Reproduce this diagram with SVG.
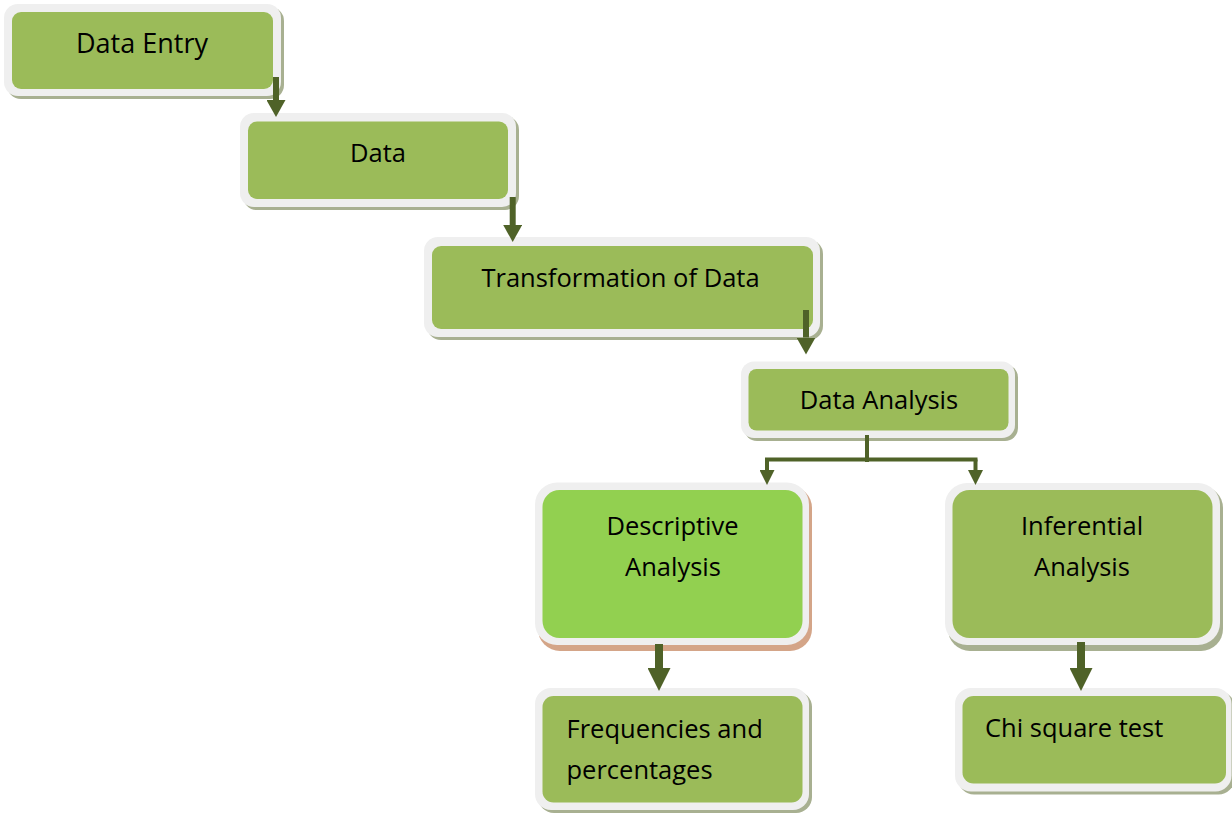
<svg xmlns="http://www.w3.org/2000/svg" width="1232" height="814" viewBox="0 0 1232 814">
<defs>
<style>
.frame{fill:#efefef;}
.shadow{fill:#a8b091;}
.shadow-tan{fill:#d4a588;}
.fill{fill:#9bbb59;}
.fill-bright{fill:#92d050;}
.label{font-family:"Open Sans","Noto Sans",sans-serif;font-size:25.5px;fill:#000;}
.mid{text-anchor:middle;}
.conn{stroke:#4f6228;fill:none;}
</style>
<marker id="head-m" markerUnits="userSpaceOnUse" viewBox="0 0 17 19" markerWidth="17" markerHeight="19" refX="0" refY="9.5" orient="auto"><path d="M0,0 L17,9.5 L0,19 z" fill="#4f6228"/></marker>
<marker id="head-s" markerUnits="userSpaceOnUse" viewBox="0 0 15 15" markerWidth="15" markerHeight="15" refX="0" refY="7.5" orient="auto"><path d="M0,0 L15,7.5 L0,15 z" fill="#4f6228"/></marker>
<marker id="head-l" markerUnits="userSpaceOnUse" viewBox="0 0 23 23" markerWidth="23" markerHeight="23" refX="0" refY="11.5" orient="auto"><path d="M0,0 L23,11.5 L0,23 z" fill="#4f6228"/></marker>
</defs>
<rect width="1232" height="814" fill="#ffffff"/>

<g id="node-data-entry">
<rect class="shadow" x="7" y="7" width="277" height="92" rx="14"/>
<rect class="frame" x="4" y="4" width="277" height="92" rx="14"/>
<rect class="fill" x="12" y="12" width="261" height="77" rx="9"/>
<text class="label mid" x="142" y="53" style="font-size:27px">Data Entry</text>
</g>

<g id="node-data">
<rect class="shadow" x="243" y="116" width="276" height="94" rx="14"/>
<rect class="frame" x="240" y="113" width="276" height="94" rx="14"/>
<rect class="fill" x="248" y="121.5" width="260" height="77.5" rx="9"/>
<text class="label mid" x="378" y="162">Data</text>
</g>

<g id="node-transformation">
<rect class="shadow" x="427" y="240" width="396" height="100" rx="14"/>
<rect class="frame" x="424" y="237" width="396" height="100" rx="14"/>
<rect class="fill" x="432" y="246" width="381" height="83" rx="9"/>
<text class="label mid" x="620.5" y="287">Transformation of Data</text>
</g>

<g id="node-data-analysis">
<rect class="shadow" x="744" y="364.5" width="274" height="76.5" rx="13"/>
<rect class="frame" x="741" y="361.5" width="274" height="76.5" rx="13"/>
<rect class="fill" x="748.5" y="369" width="260" height="61.5" rx="8"/>
<text class="label mid" x="879" y="409">Data Analysis</text>
</g>

<g id="node-descriptive">
<rect class="shadow-tan" x="538" y="486" width="274" height="165" rx="22"/>
<rect class="frame" x="535" y="482.5" width="274" height="162.5" rx="22"/>
<rect class="fill-bright" x="542.5" y="490" width="260" height="148" rx="17"/>
<text class="label mid" x="672.5" y="535">Descriptive</text>
<text class="label mid" x="673" y="576">Analysis</text>
</g>

<g id="node-inferential">
<rect class="shadow" x="948" y="486" width="275" height="165" rx="22"/>
<rect class="frame" x="945" y="483" width="275" height="162" rx="22"/>
<rect class="fill" x="952.5" y="490" width="260" height="148" rx="17"/>
<text class="label mid" x="1082" y="535">Inferential</text>
<text class="label mid" x="1082" y="576">Analysis</text>
</g>

<g id="node-frequencies">
<rect class="shadow" x="538" y="691" width="274" height="122" rx="16"/>
<rect class="frame" x="535" y="688" width="274" height="122" rx="16"/>
<rect class="fill" x="542.5" y="696" width="260" height="106.5" rx="11"/>
<text class="label" x="566.5" y="738">Frequencies and</text>
<text class="label" x="566.5" y="779">percentages</text>
</g>

<g id="node-chi-square">
<rect class="shadow" x="958" y="691" width="276.5" height="103.5" rx="16"/>
<rect class="frame" x="955" y="688" width="276.5" height="103.5" rx="16"/>
<rect class="fill" x="962.5" y="696" width="263.5" height="87.5" rx="11"/>
<text class="label" x="985" y="737">Chi square test</text>
</g>

<g id="connectors">
<path class="conn" d="M276,77 V100" stroke-width="6" marker-end="url(#head-m)"/>
<path class="conn" d="M512.7,197 V225" stroke-width="6" marker-end="url(#head-m)"/>
<path class="conn" d="M806,310 V337.5" stroke-width="6" marker-end="url(#head-m)"/>
<path class="conn" d="M867,435 V462" stroke-width="4"/>
<path class="conn" d="M765,459.5 H977.5" stroke-width="4"/>
<path class="conn" d="M767,459.5 V470" stroke-width="4" marker-end="url(#head-s)"/>
<path class="conn" d="M975.5,459.5 V470" stroke-width="4" marker-end="url(#head-s)"/>
<path class="conn" d="M659,644 V668" stroke-width="8" marker-end="url(#head-l)"/>
<path class="conn" d="M1081,642 V668" stroke-width="8" marker-end="url(#head-l)"/>
</g>
</svg>
